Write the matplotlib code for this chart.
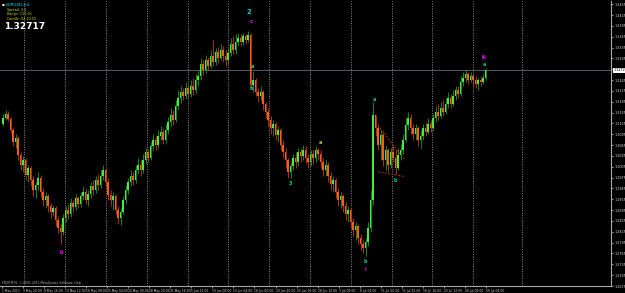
import numpy as np
import matplotlib
matplotlib.use('Agg')
import matplotlib.pyplot as plt
import matplotlib.transforms as mtransforms

# EURUSD H4 candles (prices), open = previous close
first_open = 1.3124
closes = [
    1.3141, 1.3152, 1.3138, 1.3107, 1.3074, 1.3085, 1.3038,
    1.3011, 1.3025, 1.2983, 1.3002,
    1.2969, 1.2942, 1.2955, 1.2975,
    1.2936, 1.2914, 1.2925, 1.2897,
    1.2881, 1.2892, 1.2859, 1.2836, 1.2825,
    1.2864, 1.2886, 1.2875,
    1.2906, 1.2895, 1.2920, 1.2903,
    1.2925, 1.2936, 1.2914, 1.2931,
    1.2953, 1.2942, 1.2969, 1.2955,
    1.2980, 1.2997, 1.2964, 1.2928,
    1.2914, 1.2925, 1.2886, 1.2864,
    1.2881, 1.2914, 1.2942, 1.2964,
    1.2980, 1.2969, 1.2997, 1.3011,
    1.2997, 1.3025, 1.3047, 1.3030,
    1.3063, 1.3080, 1.3066, 1.3091,
    1.3102, 1.3080, 1.3107, 1.3130,
    1.3149, 1.3135, 1.3174, 1.3196,
    1.3213, 1.3202, 1.3224, 1.3207,
    1.3229, 1.3218, 1.3246, 1.3257,
    1.3290, 1.3273, 1.3301, 1.3284,
    1.3312, 1.3295, 1.3323, 1.3306,
    1.3329, 1.3312, 1.3301, 1.3320,
    1.3345, 1.3329, 1.3351, 1.3362,
    1.3351, 1.3367, 1.3356, 1.3370,
    1.3232, 1.3246, 1.3213, 1.3202,
    1.3213, 1.3179, 1.3157, 1.3135,
    1.3113, 1.3124, 1.3094, 1.3107,
    1.3066, 1.3047, 1.3025, 1.2991,
    1.3008, 1.3030, 1.3019, 1.3047,
    1.3036, 1.3052, 1.3030, 1.3019,
    1.3041, 1.3030, 1.3052, 1.3041,
    1.3019, 1.2997, 1.3011, 1.2980,
    1.2958, 1.2969, 1.2936, 1.2914,
    1.2925, 1.2897, 1.2875, 1.2886,
    1.2853, 1.2831, 1.2842, 1.2809,
    1.2792, 1.2781, 1.2798, 1.2836,
    1.2914, 1.3149, 1.3113, 1.3066,
    1.3094, 1.3025, 1.3052, 1.3011,
    1.3047, 1.3030, 1.3002, 1.3038,
    1.3052, 1.3080, 1.3121, 1.3141,
    1.3113, 1.3096, 1.3113, 1.3080,
    1.3091, 1.3113, 1.3102, 1.3124,
    1.3113, 1.3141, 1.3157, 1.3146,
    1.3168, 1.3157, 1.3179, 1.3196,
    1.3179, 1.3202, 1.3218, 1.3207,
    1.3240, 1.3251, 1.3262, 1.3246,
    1.3257, 1.3246, 1.3235, 1.3246,
    1.3240, 1.3251, 1.32717,
]
highs = [
    1.3152, 1.3163, 1.3160, 1.3143, 1.3113, 1.3096, 1.3091,
    1.3047, 1.3036, 1.3030, 1.3011,
    1.3008, 1.2980, 1.2964, 1.2991,
    1.2983, 1.2947, 1.2936, 1.2931,
    1.2906, 1.2900, 1.2897, 1.2870, 1.2848,
    1.2875, 1.2897, 1.2903,
    1.2920, 1.2914, 1.2931, 1.2925,
    1.2936, 1.2953, 1.2947, 1.2942,
    1.2964, 1.2969, 1.2980, 1.2986,
    1.2997, 1.3011, 1.3002, 1.2975,
    1.2942, 1.2936, 1.2931, 1.2897,
    1.2892, 1.2925, 1.2955, 1.2975,
    1.2997, 1.2991, 1.3011, 1.3030,
    1.3025, 1.3041, 1.3058, 1.3055,
    1.3074, 1.3096, 1.3091, 1.3107,
    1.3119, 1.3113, 1.3124, 1.3143,
    1.3168, 1.3163, 1.3190, 1.3218,
    1.3229, 1.3224, 1.3240, 1.3232,
    1.3246, 1.3251, 1.3262, 1.3273,
    1.3306, 1.3301, 1.3315, 1.3309,
    1.3329, 1.3356, 1.3334, 1.3337,
    1.3345, 1.3340, 1.3329, 1.3334,
    1.3362, 1.3367, 1.3373, 1.3376,
    1.3373, 1.3376, 1.3373, 1.3381,
    1.3376, 1.3268, 1.3251, 1.3224,
    1.3229, 1.3218, 1.3185, 1.3168,
    1.3146, 1.3135, 1.3130, 1.3119,
    1.3113, 1.3080, 1.3058, 1.3030,
    1.3019, 1.3041, 1.3047, 1.3058,
    1.3058, 1.3066, 1.3063, 1.3041,
    1.3052, 1.3052, 1.3063, 1.3058,
    1.3052, 1.3030, 1.3025, 1.3019,
    1.2991, 1.2980, 1.2975, 1.2947,
    1.2936, 1.2931, 1.2908, 1.2897,
    1.2892, 1.2864, 1.2853, 1.2848,
    1.2820, 1.2803, 1.2809, 1.2853,
    1.2942, 1.3185, 1.3141, 1.3124,
    1.3107, 1.3102, 1.3063, 1.3058,
    1.3058, 1.3063, 1.3052, 1.3058,
    1.3069, 1.3096, 1.3141, 1.3157,
    1.3152, 1.3124, 1.3124, 1.3119,
    1.3107, 1.3124, 1.3130, 1.3141,
    1.3135, 1.3152, 1.3174, 1.3179,
    1.3185, 1.3190, 1.3196, 1.3213,
    1.3207, 1.3218, 1.3229, 1.3229,
    1.3257, 1.3268, 1.3273, 1.3268,
    1.3268, 1.3262, 1.3257, 1.3251,
    1.3257, 1.3262, 1.3279,
]
lows = [
    1.3119, 1.3135, 1.3132, 1.3099, 1.3063, 1.3058, 1.3025,
    1.2997, 1.2991, 1.2969, 1.2964,
    1.2953, 1.2925, 1.2920, 1.2942,
    1.2922, 1.2897, 1.2892, 1.2881,
    1.2864, 1.2870, 1.2842, 1.2823, 1.2792,
    1.2817, 1.2853, 1.2861,
    1.2867, 1.2881, 1.2886, 1.2892,
    1.2895, 1.2914, 1.2903, 1.2897,
    1.2920, 1.2928, 1.2933, 1.2942,
    1.2947, 1.2969, 1.2953, 1.2914,
    1.2897, 1.2886, 1.2873, 1.2848,
    1.2845, 1.2873, 1.2903, 1.2931,
    1.2953, 1.2955, 1.2961, 1.2986,
    1.2980, 1.2989, 1.3014, 1.3019,
    1.3025, 1.3052, 1.3052, 1.3058,
    1.3080, 1.3069, 1.3071, 1.3096,
    1.3119, 1.3121, 1.3130, 1.3163,
    1.3182, 1.3190, 1.3193, 1.3196,
    1.3199, 1.3204, 1.3207, 1.3229,
    1.3246, 1.3260, 1.3265, 1.3273,
    1.3279, 1.3284, 1.3287, 1.3292,
    1.3301, 1.3295, 1.3284, 1.3290,
    1.3312, 1.3318, 1.3318, 1.3340,
    1.3340, 1.3342, 1.3345, 1.3351,
    1.3224, 1.3213, 1.3202, 1.3185,
    1.3190, 1.3163, 1.3141, 1.3119,
    1.3096, 1.3091, 1.3080, 1.3074,
    1.3052, 1.3030, 1.3002, 1.2975,
    1.2975, 1.2997, 1.3002, 1.3008,
    1.3019, 1.3025, 1.3016, 1.3002,
    1.3008, 1.3014, 1.3019, 1.3025,
    1.3002, 1.2980, 1.2980, 1.2964,
    1.2942, 1.2936, 1.2920, 1.2897,
    1.2892, 1.2881, 1.2859, 1.2853,
    1.2836, 1.2814, 1.2803, 1.2792,
    1.2776, 1.2765, 1.2759, 1.2787,
    1.2825, 1.2900, 1.3091, 1.3052,
    1.3025, 1.3008, 1.2997, 1.2991,
    1.3002, 1.3019, 1.2986, 1.2997,
    1.3025, 1.3041, 1.3074, 1.3107,
    1.3096, 1.3080, 1.3080, 1.3063,
    1.3058, 1.3080, 1.3091, 1.3096,
    1.3102, 1.3107, 1.3130, 1.3135,
    1.3141, 1.3146, 1.3152, 1.3168,
    1.3168, 1.3174, 1.3190, 1.3196,
    1.3202, 1.3229, 1.3240, 1.3235,
    1.3240, 1.3229, 1.3224, 1.3218,
    1.3229, 1.3235, 1.3246,
]

current_price = 1.32717

price_ticks = [1.3455, 1.3425, 1.3395, 1.3365, 1.3335, 1.3305, 1.3275, 1.3245, 1.3215,
               1.3185, 1.3155, 1.3125, 1.3095, 1.3065, 1.3035, 1.3005, 1.2975, 1.2945,
               1.2915, 1.2885, 1.2855, 1.2825, 1.2795, 1.2765, 1.2735, 1.2705, 1.2675]

time_labels = ['1 May 2013', '3 May 20:00', '8 May 16:00', '13 May 12:00', '16 May 08:00',
               '21 May 04:00', '24 May 00:00', '28 May 20:00', '31 May 16:00', '5 Jun 12:00',
               '10 Jun 08:00', '13 Jun 04:00', '18 Jun 00:00', '20 Jun 20:00', '25 Jun 16:00',
               '28 Jun 12:00', '3 Jul 08:00', '8 Jul 04:00', '11 Jul 00:00', '15 Jul 20:00',
               '18 Jul 16:00', '23 Jul 12:00', '26 Jul 08:00', '30 Jul 08:00']

# wave labels: text, candle index, price, colour
wave_text = ['b', '2', 'c', 'a', 'b', '3', 'a', 'b', 'i', 'a', 'b', 'iii', 'a']
wave_idx = [23.2, 98.4, 99.2, 99.6, 99.2, 114.8, 126.8, 144.8, 144.8, 148.4, 156.8, 192.4, 192.4]
wave_price = [1.2767, 1.3434, 1.3406, 1.3284, 1.3221, 1.2958, 1.3072, 1.2742, 1.2720,
              1.3190, 1.2966, 1.3309, 1.3287]
wave_color = ['#ff00ff', '#00d0d0', '#ff00ff', '#33cc66', '#00c8a0', '#00c8a0', '#b8d040',
              '#00c8a0', '#ff00ff', '#00c8a0', '#00c8a0', '#ff00ff', '#00c8a0']

# triangle trend lines
tri_upper_idx = [149.2, 160.4]
tri_upper_price = [1.3127, 1.3027]
tri_lower_idx = [150.0, 160.8]
tri_lower_price = [1.2991, 1.2978]

# vertical separators (candle index)
grid_idx = [8.4, 24.8, 41.2, 57.6, 74.0, 90.0, 106.4, 122.8, 139.2, 155.6, 171.6, 188.0, 207.6]

W, H = 625, 293
fig = plt.figure(figsize=(W / 100, H / 100), dpi=100, facecolor='black')
ax = fig.add_axes([0, 7 / H, 611 / W, 285 / H], facecolor='black')

idx = np.arange(len(closes))
c = np.array(closes)
o = np.array([first_open] + closes[:-1])
hi = np.maximum(np.array(highs), np.maximum(o, c))
lo = np.minimum(np.array(lows), np.minimum(o, c))
up = c >= o

for g in grid_idx:
    ax.axvline(g, color='#8c8c8c', lw=0.7, ls=(0, (1, 1.5)), zorder=1)

ax.vlines(idx[up], lo[up], hi[up], color='#1c9a1c', lw=0.6, zorder=2)
ax.vlines(idx[~up], lo[~up], hi[~up], color='#c83a0a', lw=0.6, zorder=2)
ax.bar(idx[up], np.maximum(c - o, 0.00006)[up], bottom=o[up], width=0.6,
       color='#3cf03c', linewidth=0, zorder=3)
ax.bar(idx[~up], np.maximum(o - c, 0.00006)[~up], bottom=c[~up], width=0.6,
       color='#ff5a1a', linewidth=0, zorder=3)

ax.axhline(current_price, color='#5a6b7c', lw=0.6, zorder=1)

ax.plot(tri_upper_idx, tri_upper_price, color='#a8380e', lw=0.7, ls=(0, (2, 1.5)), zorder=4)
ax.plot(tri_lower_idx, tri_lower_price, color='#a8380e', lw=0.7, ls=(0, (2, 1.5)), zorder=4)

for t, x, y, col in zip(wave_text, wave_idx, wave_price, wave_color):
    size = 5 if t == '2' else 3.5
    ax.text(x, y, t, color=col, fontsize=size, fontweight='bold', ha='center', va='center', zorder=5)

ax.set_xlim(-1.2, 243.2)
ax.set_ylim(1.26761, 1.34641)

# price axis on the right
ax.yaxis.tick_right()
ax.set_yticks(price_ticks)
ax.set_yticklabels(['%.4f' % p for p in price_ticks])
ax.tick_params(axis='y', colors='#d8d8d8', labelsize=2.4, length=1.5, width=0.5, pad=1)

# time axis
time_pos = np.arange(len(time_labels)) * 8.416 - 0.4
ax.set_xticks(time_pos)
ax.set_xticklabels(time_labels, ha='left')
ax.tick_params(axis='x', colors='#d0d0d0', labelsize=2.2, length=1.5, width=0.5, pad=0.8)

for side in ['top', 'left']:
    ax.spines[side].set_visible(False)
for side in ['right', 'bottom']:
    ax.spines[side].set_color('#a8a8a8')
    ax.spines[side].set_linewidth(0.8)

trans = mtransforms.blended_transform_factory(ax.transAxes, ax.transData)
ax.text(1.004, current_price, '%.4f' % current_price, transform=trans, fontsize=2.4, color='black',
        va='center', ha='left', bbox=dict(fc='white', ec='none', pad=0.4), zorder=6)

# top-left info block
fig.text(2 / W, 1 - 4 / H, '\u25aa', color='white', fontsize=3, va='center')
fig.text(6 / W, 1 - 4.5 / H, 'EURUSD,H4', color='#00e0e0', fontsize=3, va='center')
fig.text(7 / W, 1 - 10 / H, 'Spread: 2.1', color='#d8d800', fontsize=2.4, va='center')
fig.text(7 / W, 1 - 14.5 / H, 'Range: 111.55', color='#d8d800', fontsize=2.4, va='center')
fig.text(7 / W, 1 - 19 / H, 'Candle: 02:10:53', color='#d8d800', fontsize=2.4, va='center')
fig.text(4 / W, 1 - 26.5 / H, '1.32717', color='white', fontsize=6.5, fontweight='bold', va='center')

fig.text(2 / W, 1 - 283 / H, 'FXCM MT4, \u00a9 2001-2013 MetaQuotes Software Corp.',
         color='#b0b0b0', fontsize=2.2, va='center')

fig.savefig('out.png', dpi=100, facecolor='black')
